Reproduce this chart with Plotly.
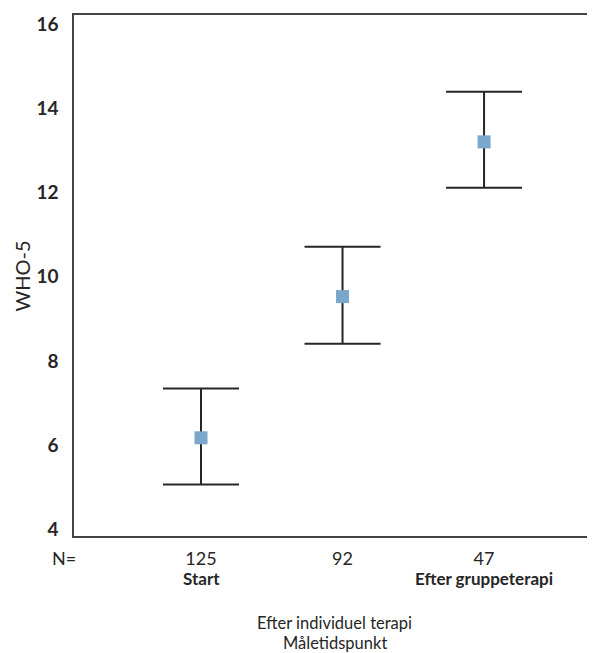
import plotly.graph_objects as go

# ---- data ----
positions = [1, 2, 3]
n_labels = ["125", "92", "47"]
group_labels = ["Start", "", "Efter gruppeterapi"]
mean_who5 = [6.18, 9.53, 13.20]
ci_low = [5.07, 8.41, 12.11]
ci_high = [7.35, 10.71, 14.39]
y_ticks = [4, 6, 8, 10, 12, 14, 16]

err_plus = [h - m for h, m in zip(ci_high, mean_who5)]
err_minus = [m - l for m, l in zip(mean_who5, ci_low)]

FONT = "Lato"
DARK = "#262626"

fig = go.Figure()
fig.add_trace(go.Scatter(
    x=positions, y=mean_who5, mode="markers",
    marker=dict(symbol="square", size=13, color="#7BA7CA"),
    error_y=dict(type="data", symmetric=False, array=err_plus, arrayminus=err_minus,
                 color=DARK, thickness=2, width=38),
    showlegend=False, hoverinfo="skip",
))

for xv, lab in zip(positions, group_labels):
    if lab:
        fig.add_annotation(x=xv, xref="x", y=-0.082, yref="paper", text=f"<b>{lab}</b>",
                           showarrow=False, xanchor="center", yanchor="middle",
                           font=dict(family=FONT, size=17, color=DARK))

fig.add_annotation(x=-0.02, xref="paper", y=-0.042, yref="paper", text="N=",
                   showarrow=False, xanchor="center", yanchor="middle",
                   font=dict(family=FONT, size=18, color=DARK))
fig.add_annotation(x=0.5, xref="paper", y=-0.167, yref="paper", text="Efter individuel terapi",
                   showarrow=False, xanchor="center", yanchor="middle",
                   font=dict(family=FONT, size=16.5, color=DARK))
fig.add_annotation(x=0.5, xref="paper", y=-0.206, yref="paper", text="Måletidspunkt",
                   showarrow=False, xanchor="center", yanchor="middle",
                   font=dict(family=FONT, size=16.5, color=DARK))
fig.add_annotation(x=-0.10, xref="paper", y=0.5, yref="paper", text="WHO-5", textangle=-90,
                   showarrow=False, xanchor="center", yanchor="middle",
                   font=dict(family=FONT, size=20, color=DARK))

# page has an 8px body margin, so the figure is shifted by 8px
fig.update_layout(
    width=587, height=645,
    margin=dict(l=66, r=0, t=7, b=117),
    paper_bgcolor="white", plot_bgcolor="white",
    xaxis=dict(range=[0.1025, 3.784], tickvals=positions, ticktext=n_labels,
               showline=True, mirror=True, linecolor="#444", linewidth=1.5,
               showgrid=False, zeroline=False, ticks="", ticklabelstandoff=6,
               tickfont=dict(family=FONT, size=18, color=DARK)),
    yaxis=dict(range=[3.85, 16.21], tickvals=y_ticks,
               ticktext=[f"<b>{v}</b>" for v in y_ticks],
               showline=True, linecolor="#444", linewidth=1.5,
               showgrid=False, zeroline=False, ticks="", ticklabelstandoff=10,
               tickfont=dict(family=FONT, size=19, color=DARK)),
)

fig.write_html("out.html")
